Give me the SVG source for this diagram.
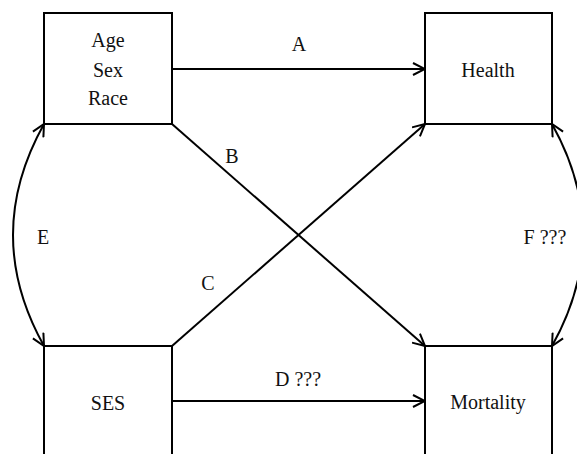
<svg xmlns="http://www.w3.org/2000/svg" width="577" height="454" viewBox="0 0 577 454">
<style>
.box{fill:#fff;stroke:#000;stroke-width:2}
.c{fill:none;stroke:#000;stroke-width:2;marker-end:url(#ah)}
.b{marker-start:url(#ah)}
text{font-family:"Liberation Serif","DejaVu Serif",serif;font-size:20px;fill:#111;text-anchor:middle}
</style>
<defs>
<marker id="ah" viewBox="0 0 14 14" refX="13" refY="7" markerWidth="14" markerHeight="14" markerUnits="userSpaceOnUse" orient="auto-start-reverse">
<path d="M1,1 L13,7 L1,13" fill="none" stroke="#000" stroke-width="2"/>
</marker>
</defs>
<rect width="577" height="454" fill="#fff"/>
<g id="n-demo"><rect class="box" x="44" y="13" width="128" height="111"/><text x="108" y="47">Age</text><text x="108" y="77">Sex</text><text x="108" y="105">Race</text></g>
<g id="n-health"><rect class="box" x="425" y="13" width="127" height="111"/><text x="488" y="77">Health</text></g>
<g id="n-ses"><rect class="box" x="44" y="346" width="128" height="111"/><text x="108" y="410">SES</text></g>
<g id="n-mort"><rect class="box" x="425" y="346" width="127" height="111"/><text x="488" y="409">Mortality</text></g>
<g id="connectors">
<path class="c" d="M172,69 L425,69"/>
<path class="c" d="M172,401 L425,401"/>
<path class="c" d="M172,124 L425,346"/>
<path class="c" d="M172,346 L425,124"/>
<path class="c b" d="M44,124 Q-18,235 44,346"/>
<path class="c b" d="M552,124 Q614,235 552,346"/>
<text x="299" y="51">A</text>
<text x="232" y="163">B</text>
<text x="208" y="290">C</text>
<text x="298" y="386">D ???</text>
<text x="43" y="244">E</text>
<text x="545" y="244">F ???</text>
</g>
</svg>
